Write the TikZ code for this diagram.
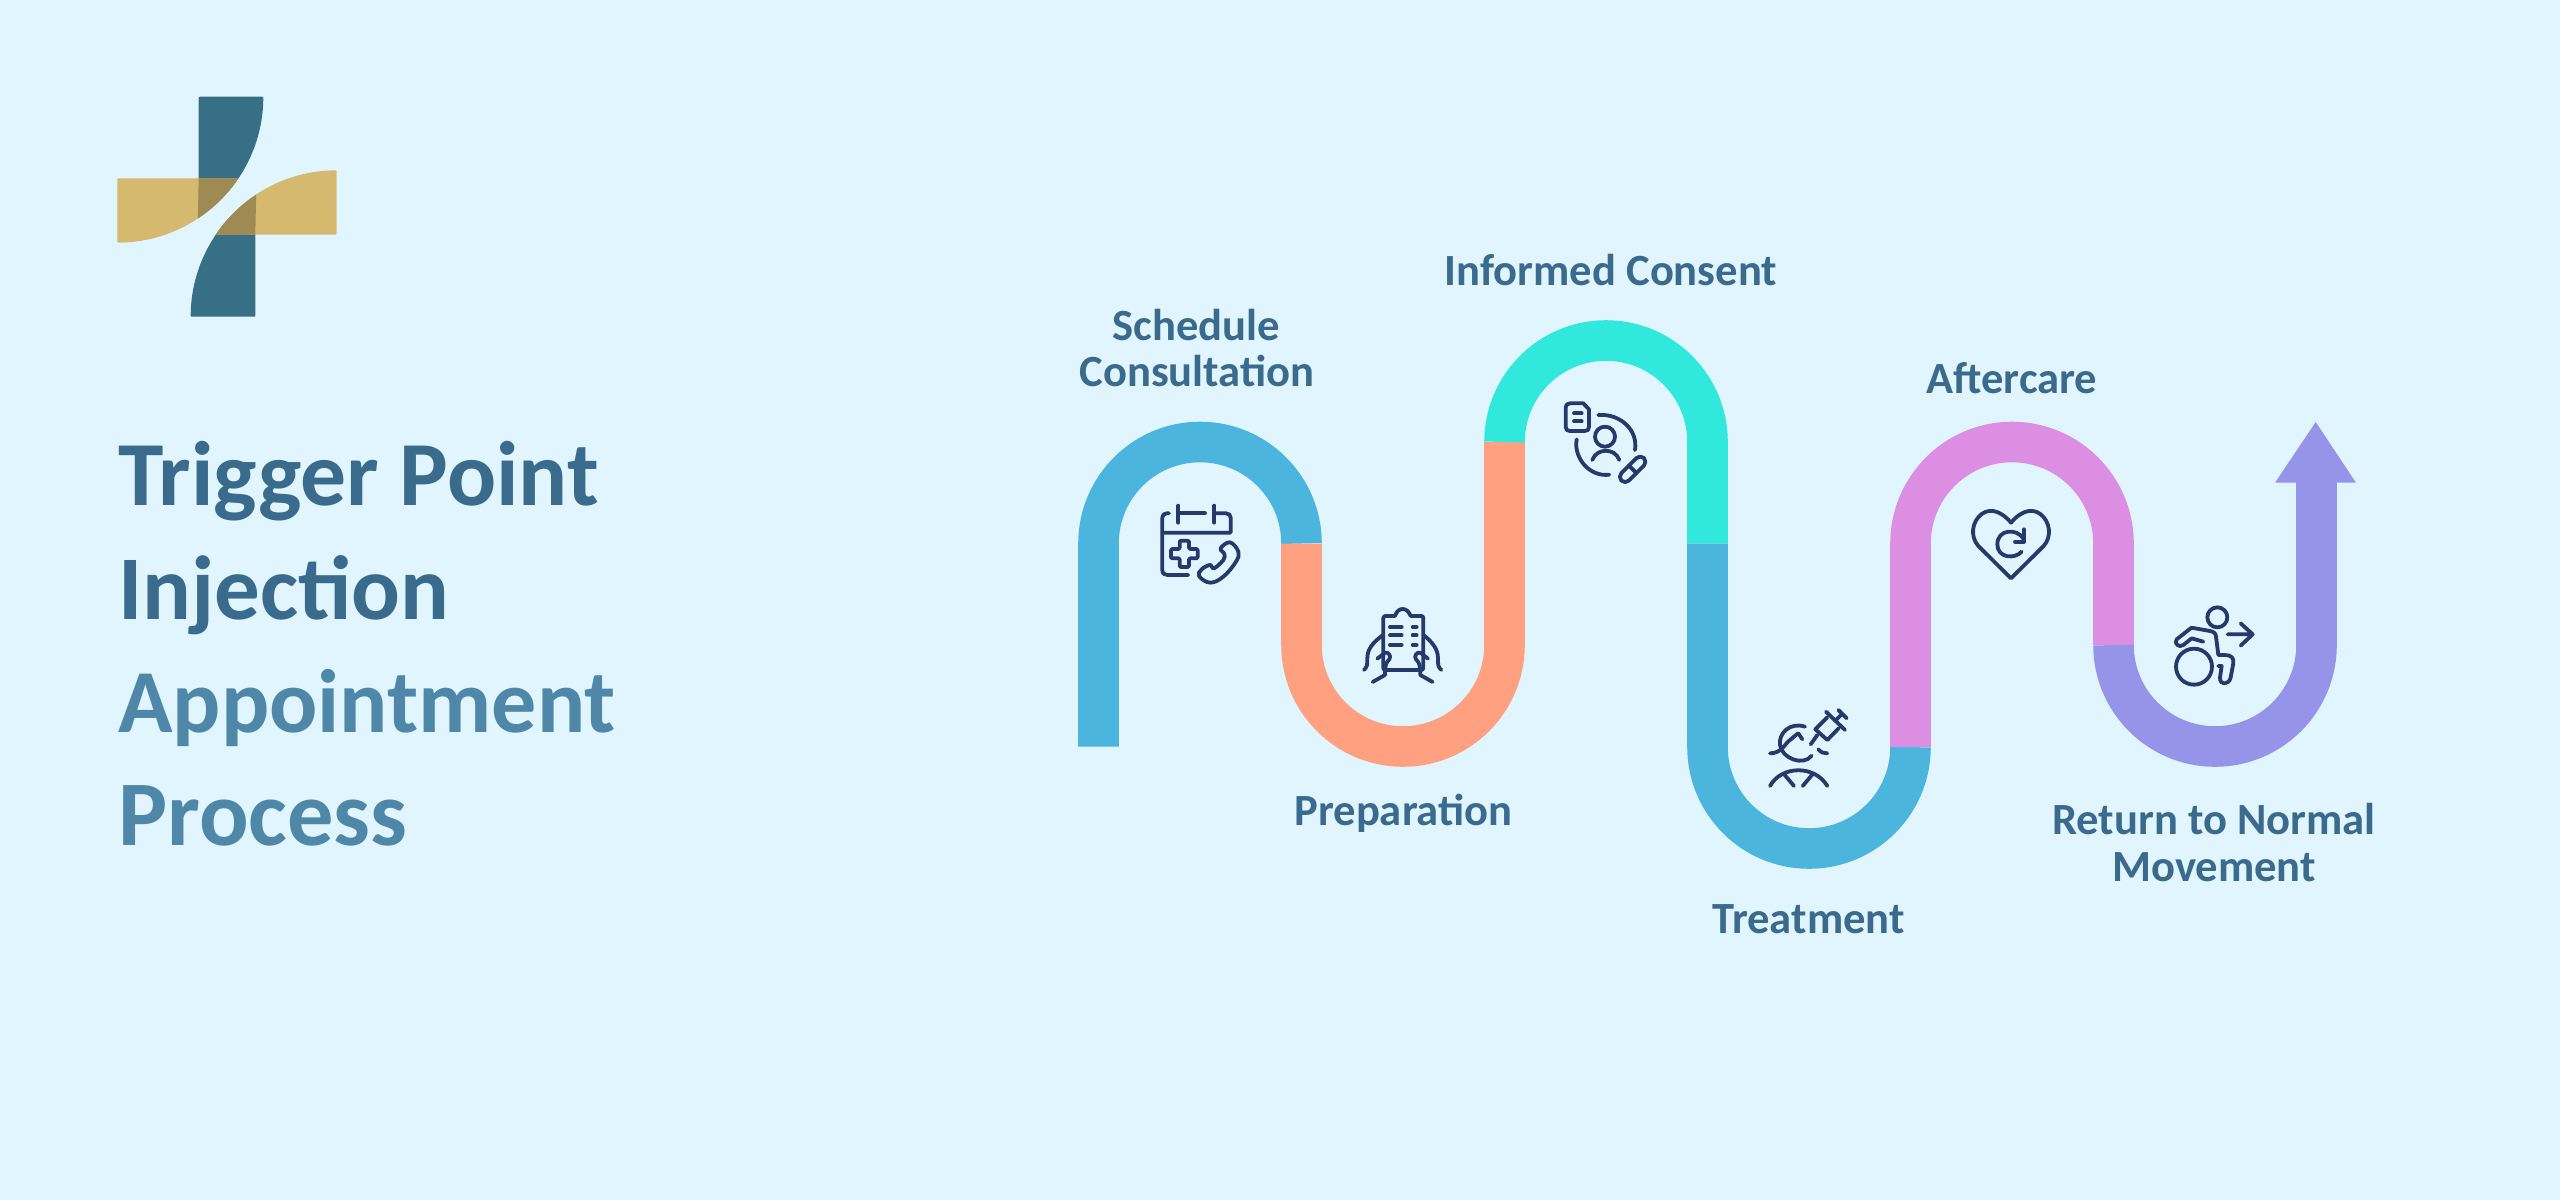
\documentclass[tikz,border=0pt]{standalone}
\usepackage{fontspec}
\setmainfont{Carlito}
\definecolor{bgc}{HTML}{E1F5FF}
\definecolor{rblue}{HTML}{4BB5DD}
\definecolor{rsalmon}{HTML}{FFA181}
\definecolor{rteal}{HTML}{30E8DB}
\definecolor{rpink}{HTML}{DC8EE2}
\definecolor{rpurple}{HTML}{9594E8}
\definecolor{ttl}{HTML}{3A6B8C}
\definecolor{ttlb}{HTML}{4F87A9}
\definecolor{icn}{HTML}{26396B}
\definecolor{ldark}{HTML}{376F86}
\definecolor{lgold}{HTML}{D5B96F}
\definecolor{lover}{HTML}{9E8A52}
\tikzset{
  ribbon/.style={line width=40.6pt,line cap=butt,line join=round},
  lbl/.style={font=\bfseries\fontsize{44.6}{47}\selectfont,text=ttl,anchor=base,align=center,inner sep=0pt},
  ttlline/.style={anchor=base west,inner sep=0pt},
  ic/.style={draw=icn,line width=3.8pt,line cap=round,line join=round,fill=none},
}
\begin{document}
\begin{tikzpicture}[x=1pt,y=-1pt]
\useasboundingbox (0,0) rectangle (2560,1200);
\fill[bgc] (0,0) rectangle (2560,1200);
% logo
\fill[ldark,rounded corners=1pt] (198.7,96.7) -- (263.3,96.7) arc[start angle=0,end angle=-56.5,radius=146pt] -- (198.7,217.7) -- cycle;
\fill[lgold,rounded corners=1pt] (117.3,178.3) -- (238.3,178.3) arc[start angle=-34,end angle=-90,radius=146pt] -- cycle;
\fill[lover] (198.7,178.3) -- (238.3,178.3) arc[start angle=-34,end angle=-56.5,radius=146pt] -- cycle;
\fill[ldark,rounded corners=1pt] (255.3,316.7) -- (190.7,316.7) arc[start angle=180,end angle=123.5,radius=146pt] -- (255.3,195.3) -- cycle;
\fill[lgold,rounded corners=1pt] (336.7,234.7) -- (215.7,234.7) arc[start angle=146,end angle=90,radius=146pt] -- cycle;
\fill[lover] (255.3,234.7) -- (215.7,234.7) arc[start angle=146,end angle=123.5,radius=146pt] -- cycle;
% title
\node[ttlline,text=ttl,font=\bfseries\fontsize{91.6}{92}\selectfont] (t1) at (118,505) {Trigger Point};
\node[ttlline,text=ttl,font=\bfseries\fontsize{91}{92}\selectfont] (t2) at (118,619) {Injection};
\node[ttlline,text=ttlb,font=\bfseries\fontsize{90}{92}\selectfont] (t3) at (118,732) {Appointment};
\node[ttlline,text=ttlb,font=\bfseries\fontsize{92.4}{92}\selectfont] (t4) at (118,845) {Process};
% ribbon
\draw[ribbon,rblue] (1098.5,746.5) -- (1098.5,543.5) arc[start angle=180,end angle=0,radius=101.5pt];
\draw[ribbon,rsalmon] (1301.5,543.5) -- (1301.5,645) arc[start angle=180,end angle=360,radius=101.5pt] -- (1504.5,442);
\draw[ribbon,rteal] (1504.5,442) arc[start angle=180,end angle=0,radius=101.5pt] -- (1707.5,543.5);
\draw[ribbon,rblue] (1707.5,543.5) -- (1707.5,747) arc[start angle=180,end angle=360,radius=101.5pt];
\draw[ribbon,rpink] (1910.5,747) -- (1910.5,543.5) arc[start angle=180,end angle=0,radius=101.5pt] -- (2113.5,645);
\draw[ribbon,rpurple] (2113.5,645) arc[start angle=180,end angle=360,radius=101.5pt] -- (2316.5,482);
\fill[rpurple] (2275,482.7) -- (2315.7,422) -- (2356,482.7) -- cycle;
% labels
\node[lbl] (l1) at (1196,340) {Schedule};
\node[lbl] (l1b) at (1197,386) {Consultation};
\node[lbl] (l2) at (1403.5,825) {Preparation};
\node[lbl] (l3) at (1611,285) {Informed Consent};
\node[lbl] (l4) at (1808.5,933) {Treatment};
\node[lbl] (l5) at (2012,393) {Aftercare};
\node[lbl] (l6) at (2214,834) {Return to Normal};
\node[lbl] (l6b) at (2214,881) {Movement};
% calendar + phone, clipboard
\begin{scope}[shift={(1130,480)},x=0.3333pt,y=-0.3333pt]
\draw[ic] (117,100) -- (110,100) .. controls (102,100) and (97,105) .. (97,113) -- (97,270) .. controls (97,280) and (103,285) .. (112,285) -- (175,285);
\draw[ic] (145,77) -- (145,128) (145,100) -- (225,100) (253,77) -- (253,128);
\draw[ic] (253,100) -- (288,100) .. controls (297,100) and (302,105) .. (302,113) -- (302,158) -- (97,158);
\draw[ic,rounded corners=1.2pt] (149,182) -- (177,182) -- (177,207) -- (203,207) -- (203,235) -- (177,235) -- (177,261) -- (149,261) -- (149,235) -- (123,235) -- (123,207) -- (149,207) -- cycle;
\draw[ic] plot[smooth cycle,tension=0.65] coordinates {(272,205) (300,187) (325,215) (318,245) (280,290) (240,308) (207,288) (215,268) (240,255) (252,265) (280,240) (283,222)};
\draw[ic,rounded corners=2pt] (795,408) -- (760,408) -- (760,570) -- (880,570) -- (880,408) -- (842,408);
\draw[ic] (795,408) .. controls (800,392) and (810,387) .. (818,387) .. controls (826,387) and (836,392) .. (842,408);
\draw[ic] (780,441) -- (815,441) (848,441) -- (860,441) (780,466) -- (815,466) (848,466) -- (860,466) (780,495) -- (815,495) (848,495) -- (860,495);
\draw[ic] (702,570) .. controls (712,560) and (712,555) .. (712,535) .. controls (712,510) and (725,490) .. (758,466);
\draw[ic] (742,536) -- (765,518) .. controls (775,515) and (785,528) .. (778,538) .. controls (768,548) and (765,555) .. (765,585) -- (728,606);
\draw[ic] (934,570) .. controls (924,560) and (924,555) .. (924,535) .. controls (924,510) and (911,490) .. (882,466);
\draw[ic] (894,536) -- (871,518) .. controls (861,515) and (851,528) .. (858,538) .. controls (868,548) and (871,555) .. (871,585) -- (908,606);
\end{scope}
% informed consent icon
\begin{scope}[shift={(1520,380)},x=0.3333pt,y=-0.3333pt]
\draw[ic] (190,70) -- (150,70) .. controls (141,70) and (137,75) .. (137,83) -- (137,140) .. controls (137,149) and (141,153) .. (150,153) -- (194,153) .. controls (203,153) and (207,149) .. (207,140) -- (207,88) -- cycle;
\draw[ic] (162,100) -- (185,100) (162,124) -- (185,124);
\draw[ic] (235,105) .. controls (300,100) and (355,150) .. (345,210);
\draw[ic] (170,178) .. controls (160,235) and (210,292) .. (268,284);
\draw[ic] (255,170) circle[radius=30];
\draw[ic] (217,240) .. controls (230,203) and (285,203) .. (298,240);
\draw[ic,rotate around={45:(338,268)},rounded corners=5.5pt] (290,252) rectangle (386,284);
\draw[ic] (327,257) -- (349,279);
\end{scope}
% treatment icon
\begin{scope}[shift={(1740,690)},x=0.3333pt,y=-0.3333pt]
\draw[ic] (195,110) .. controls (150,95) and (115,130) .. (120,165) .. controls (125,205) and (190,230) .. (215,197);
\draw[ic] (90,190) .. controls (125,190) and (135,160) .. (150,150) .. controls (160,142) and (170,132) .. (175,130) -- (187,148);
\draw[ic] (258,65) -- (315,120) (295,60) -- (320,85) (288,90) -- (306,72);
\draw[ic] (262,82) -- (226,118) -- (262,150) -- (296,115);
\draw[ic] (232,135) -- (212,163);
\draw[ic] (235,178) .. controls (243,188) and (252,190) .. (262,190);
\draw[ic] (90,288) .. controls (125,225) and (225,225) .. (262,288);
\draw[ic] (130,250) -- (162,288) (220,250) -- (188,288);
\end{scope}
% heart icon
\begin{scope}[shift={(1950,490)},x=0.3333pt,y=-0.3333pt]
\draw[ic] (183,265) -- (85,168) .. controls (60,140) and (65,95) .. (95,72) .. controls (125,50) and (160,70) .. (183,98) .. controls (206,70) and (241,50) .. (271,72) .. controls (301,95) and (306,140) .. (281,168) -- cycle;
\draw[ic] (215,185) .. controls (195,208) and (142,205) .. (142,163) .. controls (142,118) and (200,112) .. (222,148);
\draw[ic] (222,118) -- (222,155) -- (195,155);
\end{scope}
% wheelchair icon
\begin{scope}[shift={(2150,590)},x=0.3333pt,y=-0.3333pt]
\draw[ic] (202,82) circle[radius=30];
\draw[ic] (132,230) circle[radius=54];
\draw[ic] (160,155) -- (125,145) -- (100,165) .. controls (88,175) and (70,160) .. (80,148) -- (118,118) .. controls (122,113) and (125,113) .. (130,114) -- (180,123) .. controls (192,125) and (197,130) .. (198,140) -- (205,195) -- (225,195) .. controls (245,195) and (252,205) .. (250,220) -- (242,262) .. controls (238,285) and (208,288) .. (210,262) -- (215,228) -- (205,228);
\draw[ic] (233,133) -- (305,133) (272,100) -- (308,133) -- (272,167);
\end{scope}
\end{tikzpicture}
\end{document}
